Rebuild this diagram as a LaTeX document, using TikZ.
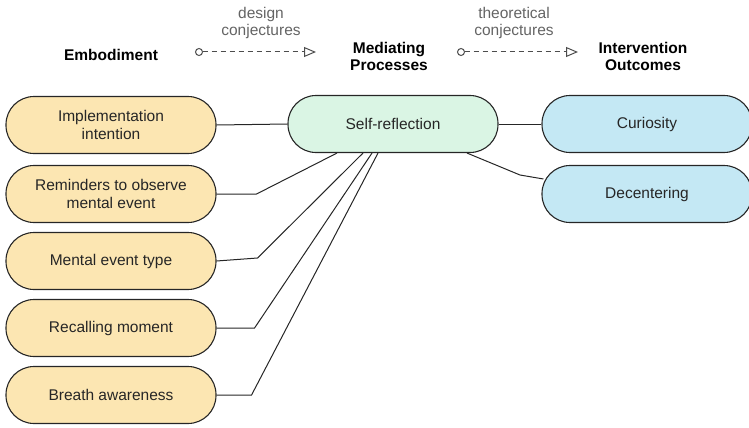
\documentclass[tikz,border=0pt]{standalone}
\usepackage{fontspec}
\setmainfont{Liberation Sans}
\usepackage{tikz}
\usetikzlibrary{arrows.meta,positioning,calc}
\usepackage{xcolor}
\definecolor{embyellow}{RGB}{252,230,178}
\definecolor{medgreen}{RGB}{218,245,228}
\definecolor{outblue}{RGB}{196,232,244}
\definecolor{conjgray}{RGB}{100,100,100}
\tikzset{
  pill/.style={draw=black!85,line width=1.1pt,rounded corners=28pt,
               minimum width=210pt,minimum height=57pt,align=center,
               font=\fontsize{15.5}{18}\selectfont,text=black!85},
  pillE/.style={pill,fill=embyellow},
  pillM/.style={pill,fill=medgreen},
  pillO/.style={pill,fill=outblue},
  hd/.style={align=center,font=\fontsize{15.5}{17}\selectfont\bfseries},
  conj/.style={align=center,font=\fontsize{15.5}{17}\selectfont,text=conjgray},
  cx/.style={line width=1pt,black!85},
  conjarr/.style={line width=1pt,black!70,dash pattern=on 5pt off 4pt,
                  {Circle[open,length=8pt,width=8pt]}-{Triangle[open,length=12pt,width=10pt]}},
}

\begin{document}
\begin{tikzpicture}[x=1pt,y=-1pt]
    \useasboundingbox (0,0) rectangle (749,428);
    \begin{scope}
    \clip (0,0) rectangle (749,428);
    % headers
    \node[hd] (hemb) at (111,55) {Embodiment};
    \node[hd] (hmed) at (389,56) {Mediating\\Processes};
    \node[hd] (hout) at (643,56) {Intervention\\Outcomes};
    \node[conj] (cdes) at (261,23) {design\\conjectures};
    \node[conj] (ctheo) at (514,23) {theoretical\\conjectures};
    \coordinate (d1) at (195,52);
    \coordinate (d2) at (316,52);
    \coordinate (t1) at (457,52);
    \coordinate (t2) at (578,52);
    \draw[conjarr] (d1) -- (d2);
    \draw[conjarr] (t1) -- (t2);
    % embodiment column
    \node[pillE] (impl) at (111,125) {Implementation\\intention};
    \node[pillE] (remind) at (111,194) {Reminders to observe\\mental event};
    \node[pillE] (mtype) at (111,261) {Mental event type};
    \node[pillE] (recall) at (111,328) {Recalling moment};
    \node[pillE] (breath) at (111,395) {Breath awareness};
    % mediating + outcomes
    \node[pillM] (self) at (393,124) {Self-reflection};
    \node[pillO] (curio) at (647,124) {Curiosity};
    \node[pillO] (decent) at (647,194) {Decentering};
    % connectors
    \draw[cx] (impl.east) -- (self.west);
    \draw[cx] (remind.east) -- ++(40,0) -- ($(self.south)+(-56,0)$);
    \draw[cx] (mtype.east) -- ++(41,-3) -- ($(self.south)+(-30,0)$);
    \draw[cx] (recall.east) -- ++(38,0) -- ($(self.south)+(-21,0)$);
    \draw[cx] (breath.east) -- ++(35,0) -- ($(self.south)+(-15,0)$);
    \draw[cx] (self.east) -- (curio.west);
    \draw[cx] ($(self.south)+(74,0)$) -- (520,175) -- ($(decent.west)+(2,-15)$);
    \end{scope}
  \end{tikzpicture}
\end{document}
